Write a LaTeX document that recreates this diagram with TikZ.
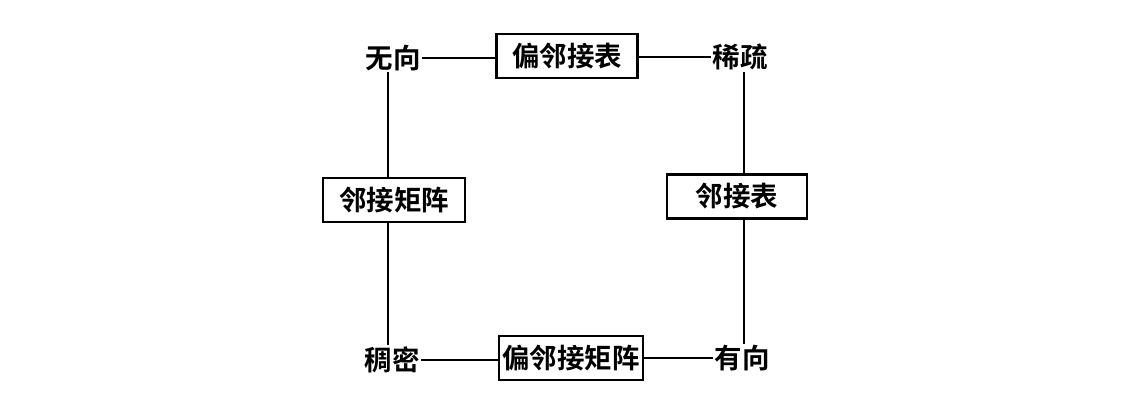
\documentclass[tikz,border=0pt]{standalone}
\usepackage{fontspec}
\newfontfamily\cjk{Noto Sans CJK SC}[BoldFont={Noto Sans CJK SC Bold}]
\begin{document}
\begin{tikzpicture}[x=1pt,y=1pt,
  lbl/.style={font=\cjk\bfseries\fontsize{27.5}{29}\selectfont, inner sep=1.5pt, outer sep=0pt},
  boxed/.style={lbl, draw, line width=2.8pt, minimum height=44pt, inner sep=1pt},
  conn/.style={line width=2.7pt}]
\useasboundingbox (0,0) rectangle (1141,402);
\fill[white] (0,0) rectangle (1141,402);
% text nodes
\node[lbl] (wx) at (393,344) {无向};
\node[lbl] (xs) at (740,345) {稀疏};
\node[lbl] (cm) at (392,42) {稠密};
\node[lbl] (yx) at (742,44) {有向};
% boxes
\node[boxed, minimum width=141pt] (pljb) at (567,346) {偏邻接表};
\node[boxed, minimum width=142pt] (ljjz) at (394,202) {邻接矩阵};
\node[boxed, minimum width=140pt] (ljb) at (737,205.5) {邻接表};
\node[boxed, minimum width=144pt] (pljjz) at (571,44) {偏邻接矩阵};
% connectors
\draw[conn] (wx.east) -- (wx.east -| pljb.west);
\draw[conn] (pljb.east |- xs.west) -- (xs.west);
\draw[conn] ([xshift=-5pt]wx.south) -- ([xshift=-6pt]ljjz.north);
\draw[conn] ([xshift=-6pt]ljjz.south) -- ([xshift=-4pt]cm.north);
\draw[conn] ([xshift=4pt]xs.south) -- ([xshift=7pt]ljb.north);
\draw[conn] ([xshift=7pt]ljb.south) -- ([xshift=2pt]yx.north);
\draw[conn] (cm.east) -- (cm.east -| pljjz.west);
\draw[conn] (pljjz.east |- yx.west) -- (yx.west);
\end{tikzpicture}
\end{document}
